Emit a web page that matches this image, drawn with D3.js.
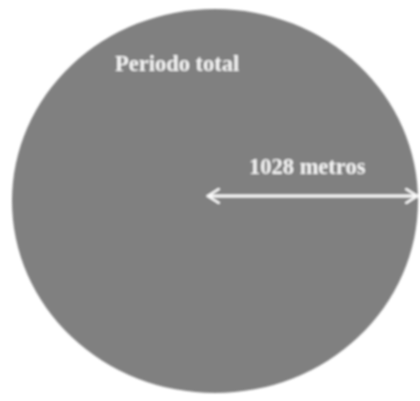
<!DOCTYPE html>
<html>
<head>
<meta charset="utf-8">
<script src="https://cdn.jsdelivr.net/npm/d3@7"></script>
<style>
	html, body { margin: 0; padding: 0; background: #fff; }
	svg { display: block; }
</style>
</head>
<body>
<script>
// data
var periods = ["Periodo total"];
var radiusMeters = [1028];
var radiusLabels = ["1028 metros"];

var width = 420,
	height = 401;

var cx = 215,
	cy = 201;

var svg = d3.select("body").append("svg").attr("width", width).attr("height", height);

var defs = svg.append("defs");
defs.append("filter").attr("id", "soft")
	.append("feGaussianBlur").attr("stdDeviation", 1.2);
defs.append("marker")
	.attr("id", "head")
	.attr("viewBox", "0 0 10 10")
	.attr("refX", 9)
	.attr("refY", 5)
	.attr("markerWidth", 5.5)
	.attr("markerHeight", 5.5)
	.attr("markerUnits", "strokeWidth")
	.attr("orient", "auto-start-reverse")
	.append("path")
	.attr("d", "M2,0.5 L9,5 L2,9.5")
	.attr("fill", "none")
	.attr("stroke", "#fafafa")
	.attr("stroke-width", 1.5);

// horizontal / vertical scale (the picture is slightly squashed)
var rx = d3.scaleLinear().domain([0, d3.max(radiusMeters)]).range([0, 203]);
var ry = d3.scaleLinear().domain([0, d3.max(radiusMeters)]).range([0, 192]);

var g = svg.append("g").attr("filter", "url(#soft)");

g.selectAll("ellipse")
	.data(radiusMeters)
	.enter()
	.append("ellipse")
	.attr("cx", cx)
	.attr("cy", cy)
	.attr("rx", function (d) { return rx(d); })
	.attr("ry", function (d) { return ry(d); })
	.style("fill", "#808080");

g.append("text")
	.attr("x", 115)
	.attr("y", 71)
	.style("font-family", "'Liberation Serif', 'DejaVu Serif', serif")
	.style("font-weight", "bold")
	.style("font-size", "22.5px")
	.style("fill", "#f4f4f4")
	.text(periods[0]);

// radius arrow
var ay = 196;
g.selectAll("line.radius")
	.data(radiusMeters)
	.enter()
	.append("line")
	.attr("class", "radius")
	.attr("x1", cx - 7)
	.attr("x2", function (d) { return cx + rx(d) - 1; })
	.attr("y1", ay)
	.attr("y2", ay)
	.attr("stroke", "#fafafa")
	.attr("stroke-width", 3)
	.attr("marker-start", "url(#head)")
	.attr("marker-end", "url(#head)");

g.append("text")
	.attr("x", 249)
	.attr("y", 174)
	.style("font-family", "'Liberation Serif', 'DejaVu Serif', serif")
	.style("font-weight", "bold")
	.style("font-size", "22.5px")
	.style("fill", "#f4f4f4")
	.text(radiusLabels[0]);
</script>
</body>
</html>
